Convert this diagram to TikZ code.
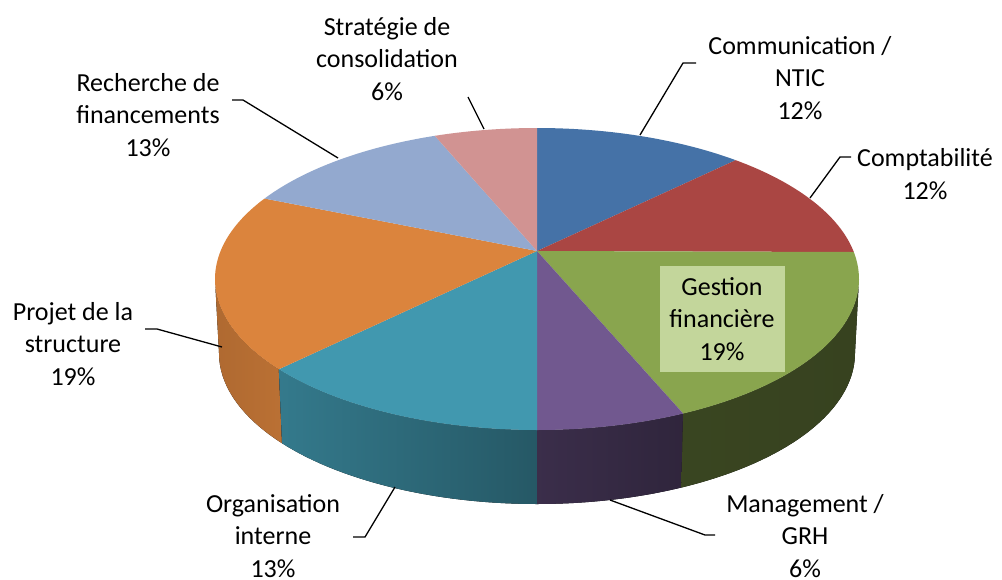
\documentclass[tikz,border=0pt]{standalone}
\usepackage{fontspec}
\setmainfont{Carlito}
\usepackage{tikz}

\definecolor{sliceblue}{HTML}{4572A7}
\definecolor{slicered}{HTML}{AA4643}
\definecolor{slicegreen}{HTML}{89A54E}
\definecolor{slicepurple}{HTML}{71588F}
\definecolor{sliceteal}{HTML}{4198AF}
\definecolor{sliceorange}{HTML}{DB843D}
\definecolor{slicelight}{HTML}{93A9CF}
\definecolor{slicepink}{HTML}{D19392}
\definecolor{boxgreen}{HTML}{C3D69B}

% top face of a slice, between ellipse angles #1 and #2
\newcommand{\topslice}[3]{%
  \fill[#3] (537,251) -- plot[domain=#1:#2,samples=60] ({537+322*cos(\x)},{279-151*sin(\x)}) -- cycle;}
% side wall of a slice
\newcommand{\sideslice}[4]{%
  \fill[left color=#3,right color=#4]
    plot[domain=#1:#2,samples=60] ({537+322*cos(\x)},{279-151*sin(\x)})
    -- plot[domain=#2:#1,samples=60] ({537+318*cos(\x)},{353-151*sin(\x)}) -- cycle;}

\begin{document}
\begin{tikzpicture}[x=1pt,y=-1pt,
    lbl/.style={font=\fontsize{26}{32.5}\selectfont,align=center,inner sep=0pt},
    lead/.style={line width=1.3pt,black}]
  \useasboundingbox[fill=white] (0,0) rectangle (1002,579);

  % side walls
  \sideslice{-180}{-143.3}{sliceorange!80!black}{sliceorange!85!black}
  \sideslice{-143.3}{-90}{sliceteal!80!black}{sliceteal!58!black}
  \sideslice{-90}{-63}{slicepurple!52!black}{slicepurple!42!black}
  \sideslice{-63}{0}{slicegreen!42!black}{slicegreen!40!black}

  % top faces
  \topslice{51.9}{90}{sliceblue}
  \topslice{10.3}{51.9}{slicered}
  \topslice{-63}{10.3}{slicegreen}
  \topslice{-90}{-63}{slicepurple}
  \topslice{-143.3}{-90}{sliceteal}
  \topslice{-212.2}{-143.3}{sliceorange}
  \topslice{108.5}{147.8}{slicelight}
  \topslice{90}{108.5}{slicepink}

  % labels
  \node[lbl,fill=boxgreen,minimum width=125pt,minimum height=106pt] (gestion) at (722,319)
    {Gestion\\financière\\19\%};
  \node[lbl] (comm) at (800,78) {Communication /\\NTIC\\12\%};
  \node[lbl] (compta) at (925,174) {Comptabilité\\12\%};
  \node[lbl] (strat) at (387,59) {Stratégie de\\consolidation\\6\%};
  \node[lbl] (rech) at (148,115) {Recherche de\\financements\\13\%};
  \node[lbl] (projet) at (73,344) {Projet de la\\structure\\19\%};
  \node[lbl] (orga) at (273,536) {Organisation\\interne\\13\%};
  \node[lbl] (mgmt) at (805,536) {Management /\\GRH\\6\%};

  % leader lines
  \coordinate (commA) at (640,135);
  \coordinate (commB) at (683,63);
  \coordinate (commC) at (696,63);
  \draw[lead] (commA) -- (commB) -- (commC);
  \coordinate (comptaA) at (810,198);
  \coordinate (comptaB) at (840,157);
  \coordinate (comptaC) at (851,157);
  \draw[lead] (comptaA) -- (comptaB) -- (comptaC);
  \coordinate (stratA) at (484,129);
  \coordinate (stratB) at (468,97);
  \draw[lead] (stratA) -- (stratB);
  \coordinate (rechA) at (338,158);
  \coordinate (rechB) at (243,100);
  \coordinate (rechC) at (232,100);
  \draw[lead] (rechA) -- (rechB) -- (rechC);
  \coordinate (projetA) at (222,347);
  \coordinate (projetB) at (157,329);
  \coordinate (projetC) at (145,329);
  \draw[lead] (projetA) -- (projetB) -- (projetC);
  \coordinate (orgaA) at (395,487);
  \coordinate (orgaB) at (365,537);
  \coordinate (orgaC) at (353,537);
  \draw[lead] (orgaA) -- (orgaB) -- (orgaC);
  \coordinate (mgmtA) at (610,500);
  \coordinate (mgmtB) at (705,535);
  \coordinate (mgmtC) at (715,535);
  \draw[lead] (mgmtA) -- (mgmtB) -- (mgmtC);
\end{tikzpicture}
\end{document}
